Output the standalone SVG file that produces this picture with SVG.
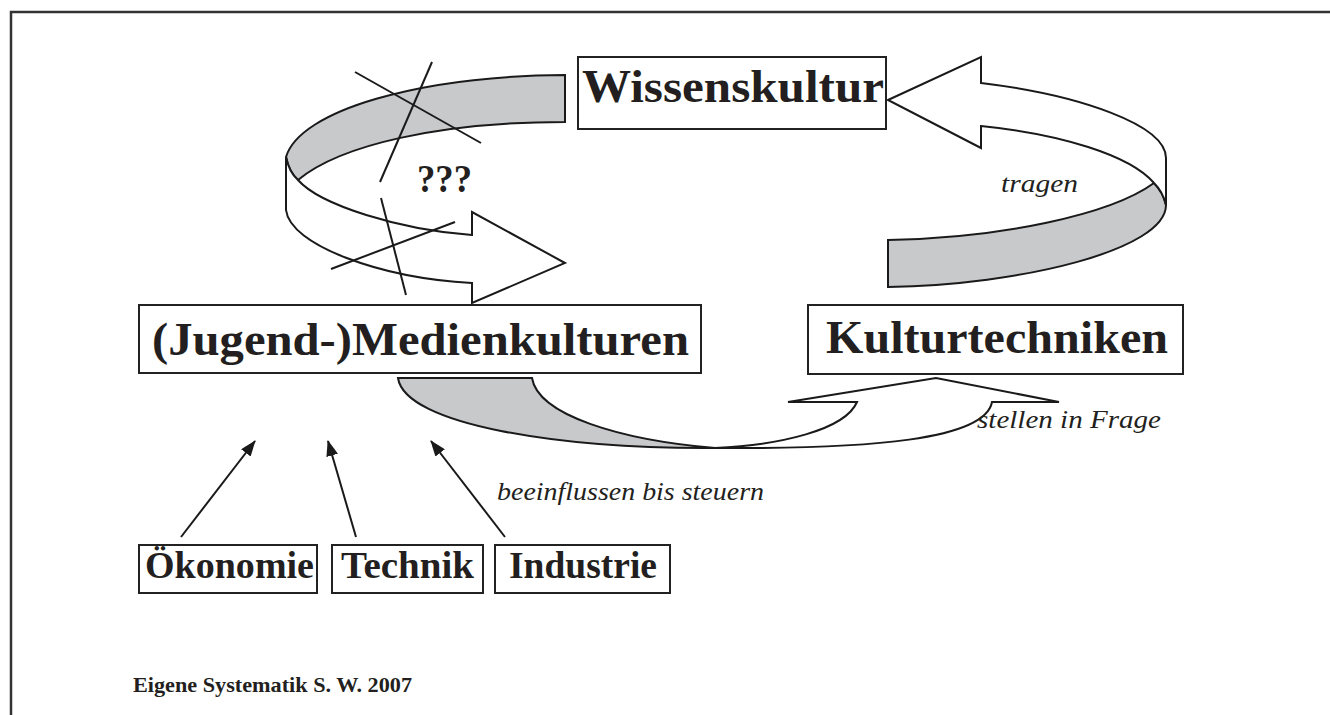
<svg xmlns="http://www.w3.org/2000/svg" width="1330" height="715" viewBox="0 0 1330 715">
<style>
.box{fill:#fff;stroke:#222;stroke-width:2}
.big{font-family:"Liberation Serif","Times New Roman",serif;font-weight:bold;font-size:46px;fill:#231f20;text-anchor:middle}
.small{font-family:"Liberation Serif","Times New Roman",serif;font-weight:bold;font-size:37px;fill:#231f20;text-anchor:middle}
.it{font-family:"Liberation Serif","Times New Roman",serif;font-style:italic;font-size:26px;fill:#231f20}
.band{stroke:#1a1a1a;stroke-width:2;stroke-linejoin:miter}
.gray{fill:#c8c9cb}
.white{fill:#fff}
.ln{stroke:#1a1a1a;stroke-width:2;fill:none}
.foot{font-family:"Liberation Serif","Times New Roman",serif;font-weight:bold;font-size:21px;fill:#231f20}
</style>
<defs>
<marker id="ah" markerUnits="userSpaceOnUse" markerWidth="16" markerHeight="12" refX="15" refY="6" orient="auto">
<path d="M0,0 L16,6 L0,12 Z" fill="#1a1a1a"/>
</marker>
</defs>
<rect width="1330" height="715" fill="#fff"/>
<path d="M11,715 L11,12 L1330,12" fill="none" stroke="#333" stroke-width="2.5"/>

<g id="connectors">
  <!-- top-left ribbon arrow -->
  <g id="arrow-topleft">
    <path class="band gray" d="M565,75 C420,76 300,110 286,157 Q289,172 298,180 C340,145 440,122 565,122 Z"/>
    <path class="band white" d="M286,157 Q289,172 298,180 C320,205 400,230 472,235 L472,212 L565,263 L472,303 L472,283 C380,278 290,245 286,210 Z"/>
    <line class="ln" x1="355" y1="72" x2="481" y2="143"/>
    <line class="ln" x1="432" y1="62" x2="380" y2="182"/>
    <line class="ln" x1="455" y1="222" x2="331" y2="269"/>
    <line class="ln" x1="381" y1="198" x2="406" y2="295"/>
    <text x="444.5" y="192" class="big" style="font-size:40px" textLength="55" lengthAdjust="spacingAndGlyphs">???</text>
  </g>
  <!-- top-right ribbon arrow -->
  <g id="arrow-topright">
    <path class="band gray" d="M888,240 C1000,238 1110,215 1154,183 Q1163,192 1166,205 C1166,250 1020,285 888,287 Z"/>
    <path class="band white" d="M888,100 L981,57 L981,83 C1080,95 1166,125 1166,158 L1166,205 Q1163,192 1154,183 C1130,155 1060,134 981,126 L981,148 Z"/>
    <text x="1001" y="192" class="it" textLength="77" lengthAdjust="spacingAndGlyphs">tragen</text>
  </g>
  <!-- bottom ribbon arrow -->
  <g id="arrow-bottom">
    <path class="band gray" d="M398,378 L532,378 C538,415 620,440 715,448 C560,449 405,425 398,378 Z"/>
    <path class="band white" d="M715,448 C870,449 985,440 992,402 L1059,402 L936,378 L788,402 L857,402 C845,430 780,445 715,448 Z"/>
    <text x="977" y="428" class="it" textLength="184" lengthAdjust="spacingAndGlyphs">stellen in Frage</text>
  </g>
  <!-- influence arrows -->
  <g id="arrows-influence">
    <line class="ln" x1="181" y1="537" x2="255" y2="441" marker-end="url(#ah)"/>
    <line class="ln" x1="356" y1="537" x2="328" y2="441" marker-end="url(#ah)"/>
    <line class="ln" x1="505" y1="537" x2="431" y2="441" marker-end="url(#ah)"/>
    <text x="497" y="500" class="it" textLength="267" lengthAdjust="spacingAndGlyphs">beeinflussen bis steuern</text>
  </g>
</g>

<g id="node-wissenskultur">
  <rect class="box" x="578" y="57" width="308" height="72"/>
  <text x="733" y="102" class="big" textLength="302" lengthAdjust="spacingAndGlyphs">Wissenskultur</text>
</g>
<g id="node-medienkulturen">
  <rect class="box" x="139" y="305" width="562" height="68"/>
  <text x="420.5" y="355" class="big" textLength="537" lengthAdjust="spacingAndGlyphs">(Jugend-)Medienkulturen</text>
</g>
<g id="node-kulturtechniken">
  <rect class="box" x="808" y="305" width="375" height="69"/>
  <text x="997" y="353" class="big" textLength="342" lengthAdjust="spacingAndGlyphs">Kulturtechniken</text>
</g>
<g id="node-oekonomie">
  <rect class="box" x="139" y="545" width="178" height="48"/>
  <text x="229.5" y="578" class="small" textLength="169" lengthAdjust="spacingAndGlyphs">Ökonomie</text>
</g>
<g id="node-technik">
  <rect class="box" x="332" y="545" width="151" height="48"/>
  <text x="407.5" y="578" class="small" textLength="133" lengthAdjust="spacingAndGlyphs">Technik</text>
</g>
<g id="node-industrie">
  <rect class="box" x="495" y="545" width="175" height="48"/>
  <text x="583" y="578" class="small" textLength="148" lengthAdjust="spacingAndGlyphs">Industrie</text>
</g>

<text x="133" y="692" class="foot" textLength="279" lengthAdjust="spacingAndGlyphs">Eigene Systematik S. W. 2007</text>
</svg>
